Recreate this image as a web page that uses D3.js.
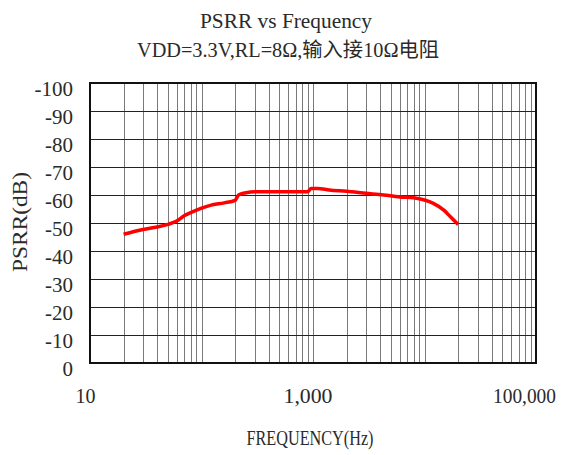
<!DOCTYPE html>
<html>
<head>
<meta charset="utf-8">
<script src="https://cdn.jsdelivr.net/npm/d3@7"></script>
<style>
  html, body { margin: 0; padding: 0; background: #fff; }
  svg { display: block; }
</style>
</head>
<body>
<svg id="chart" width="565" height="455"></svg>
<script>
// ---- data ----
const titleLines = ["PSRR vs Frequency", "VDD=3.3V,RL=8Ω,输入接10Ω电阻"];
const xAxisTitle = "FREQUENCY(Hz)";
const yAxisTitle = "PSRR(dB)";
const xTickValues = [10, 1000, 100000];
const xTickLabels = ["10", "1,000", "100,000"];
const yTickValues = [0, -10, -20, -30, -40, -50, -60, -70, -80, -90, -100];
const frequency = [20, 30, 40, 50, 60, 70, 80, 100, 120, 160, 200, 215, 250, 300, 500, 900, 960, 1100, 1400, 2000, 3000, 4300, 6000, 8000, 10000, 12000, 15000, 17000, 20000];
const psrr = [-46, -47.7, -48.6, -49.5, -50.7, -52.6, -53.7, -55.3, -56.3, -57.2, -58.1, -60, -60.8, -61.2, -61.2, -61.2, -62.3, -62.3, -61.8, -61.3, -60.6, -60, -59.3, -59, -58.2, -57, -54.5, -52.3, -49.5];

// ---- layout ----
const svg = d3.select("#chart");
const L = 90, R = 536, T = 83, B = 363;
const latin = "'Liberation Serif', 'DejaVu Serif', serif";
const mixed = "'Liberation Serif', 'Noto Sans CJK SC', serif";
const ink = "#2a2a2a";

const x = d3.scaleLog().domain([10, 100000]).range([L, R]);
const y = d3.scaleLinear().domain([0, -100]).range([B, T]);

// vertical grid
const gx = svg.append("g")
  .attr("transform", `translate(0,${B})`)
  .call(d3.axisBottom(x).tickValues(x.ticks()).tickSize(-(B - T)).tickFormat(""));
gx.select(".domain").remove();
gx.selectAll("line").attr("stroke", "#7a7a7a").attr("stroke-width", 1).attr("shape-rendering", "crispEdges");

// horizontal grid
const gy = svg.append("g")
  .attr("transform", `translate(${L},0)`)
  .call(d3.axisLeft(y).tickValues(yTickValues).tickSize(-(R - L)).tickFormat(""));
gy.select(".domain").remove();
gy.selectAll("line").attr("stroke", "#222").attr("stroke-width", 1).attr("shape-rendering", "crispEdges");

// frame
svg.append("rect").attr("x", L).attr("y", T).attr("width", R - L).attr("height", B - T)
  .attr("fill", "none").attr("stroke", "#111").attr("stroke-width", 1.2).attr("shape-rendering", "crispEdges");

// y tick labels
const ya = svg.append("g").attr("transform", `translate(${L},0)`)
  .call(d3.axisLeft(y).tickValues(yTickValues).tickSize(0).tickPadding(17).tickFormat(d => String(d)));
ya.select(".domain").remove();
ya.selectAll("text").attr("font-family", latin).attr("font-size", 21).attr("fill", ink)
  .attr("dy", "0.6em");

// x tick labels
const xLabelWidth = [20, 49, 63];
const xa = svg.append("g").attr("transform", `translate(0,${B})`)
  .call(d3.axisBottom(x).tickValues(xTickValues).tickSize(0).tickPadding(26)
    .tickFormat((d, i) => xTickLabels[i]));
xa.select(".domain").remove();
xa.selectAll("text").attr("font-family", latin).attr("font-size", 20).attr("fill", ink)
  .attr("dx", (d, i) => [-5, -5.5, -12][i])
  .attr("textLength", (d, i) => xLabelWidth[i]).attr("lengthAdjust", "spacingAndGlyphs");

// curve
const line = d3.line().x((d, i) => x(frequency[i])).y((d, i) => y(psrr[i])).curve(d3.curveMonotoneX);
svg.append("path").datum(psrr).attr("d", line)
  .attr("fill", "none").attr("stroke", "#ff0000").attr("stroke-width", 3.5)
  .attr("stroke-linejoin", "round").attr("stroke-linecap", "butt");

// titles
svg.append("text").attr("x", 286).attr("y", 28).attr("text-anchor", "middle")
  .attr("font-family", latin).attr("font-size", 21).attr("fill", ink)
  .attr("textLength", 172).attr("lengthAdjust", "spacingAndGlyphs").text(titleLines[0]);
svg.append("text").attr("x", 288).attr("y", 57).attr("text-anchor", "middle")
  .attr("font-family", mixed).attr("font-size", 20).attr("fill", ink)
  .attr("textLength", 302).attr("lengthAdjust", "spacingAndGlyphs").text(titleLines[1]);

// axis titles
svg.append("text").attr("x", 310).attr("y", 445).attr("text-anchor", "middle")
  .attr("font-family", latin).attr("font-size", 21).attr("fill", ink)
  .attr("textLength", 127).attr("lengthAdjust", "spacingAndGlyphs").text(xAxisTitle);
svg.append("text").attr("transform", "translate(27,222) rotate(-90)").attr("text-anchor", "middle")
  .attr("font-family", latin).attr("font-size", 21).attr("fill", ink)
  .attr("textLength", 100).attr("lengthAdjust", "spacingAndGlyphs").text(yAxisTitle);
</script>
</body>
</html>
